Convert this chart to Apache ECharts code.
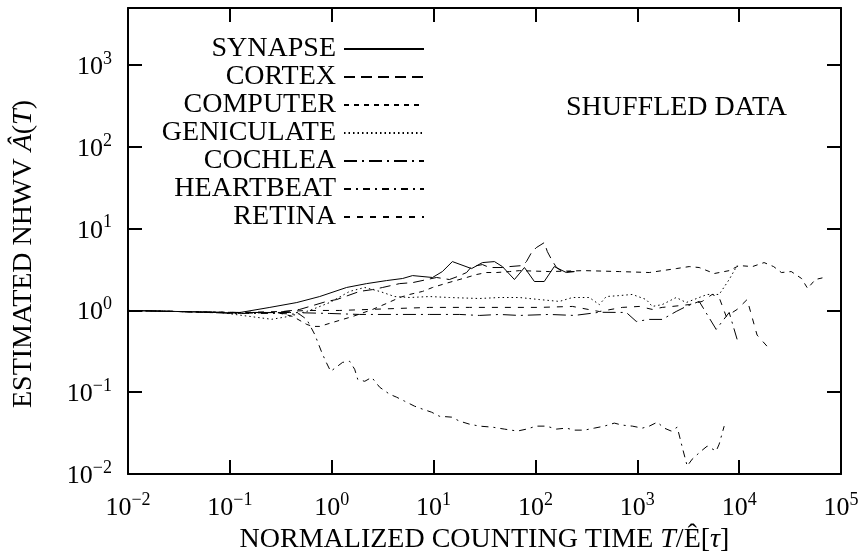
<!DOCTYPE html>
<html>
<head>
<meta charset="utf-8">
<script src="https://cdn.jsdelivr.net/npm/echarts@6/dist/echarts.min.js"></script>
<style>
  html, body { margin: 0; padding: 0; background: #fff; }
  #chart { width: 861px; height: 557px; }
</style>
</head>
<body>
<div id="chart"></div>
<script>
// Normalized Haar wavelet variance of shuffled point-process data sets,
// each curve given as [T / E[tau], A(T)] pairs.
const seriesNames = ['SYNAPSE', 'CORTEX', 'COMPUTER', 'GENICULATE', 'COCHLEA', 'HEARTBEAT', 'RETINA'];

const SYNAPSE = [[0.01,1.00],[0.032,0.97],[0.117,0.93],[0.247,1.09],[0.454,1.25],[0.762,1.48],[1.40,1.91],[2.20,2.13],[3.46,2.32],[4.97,2.46],[6.22,2.67],[9.77,2.53],[12.2,2.99],[15.3,3.96],[23.6,3.25],[30.2,3.85],[39.6,3.96],[47.4,3.44],[62.2,2.39],[78.0,3.35],[97.7,2.26],[122,2.26],[153,3.44],[201,2.91],[241,2.99]];

const CORTEX = [[0.01,1.00],[0.032,0.97],[0.117,0.945],[0.289,0.945],[0.486,1.03],[0.893,1.29],[1.12,1.36],[1.88,1.71],[2.52,1.80],[3.16,1.91],[4.64,2.13],[6.22,2.19],[10.7,2.53],[14.3,2.39],[17.2,2.60],[21.1,2.91],[23.6,3.44],[30.2,3.64],[35.4,3.35],[47.4,3.35],[55.6,3.44],[74.6,3.54],[81.6,3.96],[91.4,5.10],[102,5.87],[122,6.75],[131,5.24],[144,4.19],[161,3.35],[184,2.99],[241,2.99]];

const COMPUTER = [[0.01,1.00],[0.032,0.97],[0.117,0.92],[0.289,0.945],[0.415,0.845],[0.569,0.675],[0.651,0.638],[0.762,0.638],[1.02,0.714],[1.61,0.845],[2.52,1.03],[3.46,1.22],[4.64,1.44],[5.82,1.57],[7.80,1.71],[9.77,1.91],[12.2,2.08],[15.3,2.26],[21.1,2.53],[26.4,2.75],[33.1,2.91],[41.5,2.91],[55.6,2.99],[69.7,3.07],[137,2.99],[302,3.07],[667,2.99],[1312,2.91],[2411,3.25],[3236,3.44],[4055,3.35],[5700,2.83],[7982,3.07],[10000,3.54],[13500,3.44],[17580,3.85],[21800,3.44],[26000,2.91],[32500,2.99],[41000,2.46],[47000,1.86],[56000,2.39],[68100,2.53]];

const GENICULATE = [[0.01,1.00],[0.032,0.97],[0.080,0.945],[0.157,0.845],[0.258,0.78],[0.388,0.85],[0.609,1.00],[0.955,1.25],[1.50,1.71],[2.11,1.91],[2.96,1.71],[4.15,1.48],[5.82,1.44],[9.14,1.48],[14.3,1.44],[28.2,1.40],[44.4,1.44],[69.7,1.44],[109,1.36],[172,1.29],[231,1.44],[338,1.44],[424,1.18],[496,1.48],[667,1.52],[894,1.57],[1225,1.36],[1403,1.12],[1757,1.18],[2411,1.44],[3022,1.25],[4055,1.44],[4854,1.57],[6367,1.57],[7982,2.39],[9555,3.54]];

const COCHLEA = [[0.01,1.00],[0.032,0.97],[0.117,0.945],[0.388,0.945],[0.955,0.919],[1.88,0.894],[4.64,0.894],[9.14,0.894],[18.0,0.894],[28.2,0.869],[44.4,0.894],[69.7,0.869],[137,0.894],[241,0.869],[424,0.95],[780,0.945],[978,0.734],[1312,0.777],[1757,0.777],[2411,0.972],[3022,1.12],[4055,1.29],[5951,0.587],[7982,0.945],[9555,0.443]];

const HEARTBEAT = [[0.01,1.00],[0.032,0.97],[0.117,0.92],[0.309,0.92],[0.486,0.894],[0.569,0.777],[0.681,0.51],[0.798,0.308],[0.873,0.239],[0.977,0.180],[1.07,0.196],[1.28,0.232],[1.50,0.239],[1.68,0.191],[1.80,0.144],[2.11,0.136],[2.47,0.152],[2.96,0.115],[3.70,0.0946],[4.34,0.0869],[5.20,0.0777],[6.51,0.0675],[7.80,0.0621],[9.56,0.057],[11.4,0.0509],[15.0,0.0496],[18.0,0.0443],[22.5,0.0407],[28.2,0.0385],[37.9,0.0374],[49.6,0.0354],[66.6,0.0335],[81.6,0.0354],[102,0.0385],[128,0.0385],[161,0.0354],[201,0.0364],[241,0.0344],[302,0.0344],[379,0.0364],[474,0.0385],[595,0.0419],[713,0.0396],[894,0.0385],[1120,0.0364],[1312,0.0385],[1570,0.043],[1840,0.0364],[2155,0.0335],[2467,0.0374],[2762,0.0213],[3091,0.0125],[3461,0.0152],[4240,0.0191],[4854,0.0219],[5951,0.0191],[6367,0.0232],[7128,0.0385]];

const RETINA = [[0.01,1.00],[0.032,0.97],[0.117,0.945],[0.309,0.97],[0.609,1.00],[1.20,1.00],[2.36,1.03],[4.64,1.06],[9.14,1.09],[22.5,1.09],[44.4,1.09],[109,1.09],[231,1.12],[424,0.97],[713,1.09],[1047,1.12],[1403,1.03],[1757,1.09],[2203,1.12],[3236,1.18],[4338,1.29],[5433,1.57],[6367,1.44],[7464,0.845],[9555,1.03],[11980,1.36],[15000,0.50],[18830,0.364]];

const seriesData = [SYNAPSE, CORTEX, COMPUTER, GENICULATE, COCHLEA, HEARTBEAT, RETINA];

// Dash patterns, one per curve (solid, dashes, dots, dash-dots).
const dashPatterns = ['solid', [11, 6], [5, 5], [1.5, 3], [13, 5, 2, 5], [7, 5, 2, 5], [6, 7]];

const X_MIN = 0.01, X_MAX = 1e5;
const Y_MIN = 0.01, Y_MAX = 5000;

const FONT = '"Liberation Serif", "Times New Roman", serif';
const FS_TICK = 26;
const FS_TEXT = 28;

function powerLabel(v) {
  const lg = Math.log10(v);
  const e = Math.round(lg);
  if (Math.abs(lg - e) > 1e-6) return '';
  const ex = e < 0 ? '\u2212' + (-e) : String(e);
  return '{b|10}{s|' + ex + '}';
}

const labelRich = {
  b: { fontFamily: FONT, fontSize: FS_TICK, color: '#000', lineHeight: 30, verticalAlign: 'bottom' },
  s: { fontFamily: FONT, fontSize: 18, color: '#000', lineHeight: 18, verticalAlign: 'top' }
};

const nameRich = {
  n: { fontFamily: FONT, fontSize: FS_TEXT, color: '#000' },
  i: { fontFamily: FONT, fontSize: FS_TEXT, color: '#000', fontStyle: 'italic' }
};

function axis(opts) {
  return Object.assign({
    type: 'log',
    logBase: 10,
    axisLine: { show: true, onZero: false, lineStyle: { color: '#000', width: 2 } },
    axisTick: { show: true, inside: true, length: 14, lineStyle: { color: '#000', width: 2 } },
    minorTick: { show: false },
    splitLine: { show: false },
    minorSplitLine: { show: false }
  }, opts);
}

const chart = echarts.init(document.getElementById('chart'), null, { renderer: 'canvas' });

chart.setOption({
  animation: false,
  backgroundColor: '#fff',
  grid: { left: 128, right: 20, top: 8, bottom: 83, containLabel: false, outerBoundsMode: 'none' },
  title: {
    text: 'SHUFFLED DATA',
    left: 566, top: 94, padding: 0,
    textStyle: { fontFamily: FONT, fontSize: FS_TEXT, fontWeight: 'normal', color: '#000' }
  },
  legend: {
    orient: 'vertical',
    right: 436, top: 35,
    align: 'right',
    padding: 0,
    itemWidth: 80, itemHeight: 2, itemGap: 0,
    selectedMode: false,
    itemStyle: { color: 'rgba(0,0,0,0)', borderWidth: 0, opacity: 0 },
    textStyle: { fontFamily: FONT, fontSize: FS_TEXT, color: '#000', lineHeight: 27.5, padding: [0, 3, 0, 0] },
    data: seriesNames
  },
  xAxis: [
    axis({
      position: 'bottom', min: X_MIN, max: X_MAX,
      axisLabel: { margin: 17, formatter: powerLabel, rich: labelRich },
      name: '{n|NORMALIZED COUNTING TIME }{i|T}{n|/Ê[}{i|\u03c4}{n|]}',
      nameLocation: 'middle', nameGap: 51,
      nameTextStyle: { rich: nameRich }
    }),
    axis({ position: 'top', min: X_MIN, max: X_MAX, axisLabel: { show: false } })
  ],
  yAxis: [
    axis({
      position: 'left', min: Y_MIN, max: Y_MAX,
      axisLabel: { margin: 16, formatter: powerLabel, rich: labelRich },
      name: '{n|ESTIMATED NHWV }{i|Â}{n|(}{i|T}{n|)}',
      nameLocation: 'middle', nameGap: 90, nameRotate: 90,
      nameTextStyle: { rich: nameRich, padding: [0, 26, 0, 0] }
    }),
    axis({ position: 'right', min: Y_MIN, max: Y_MAX, axisLabel: { show: false } })
  ],
  series: seriesNames.map((name, k) => ({
    name: name,
    type: 'line',
    xAxisIndex: 0,
    yAxisIndex: 0,
    data: seriesData[k],
    symbol: 'none',
    showSymbol: false,
    silent: true,
    clip: true,
    itemStyle: { color: '#000' },
    lineStyle: { color: '#000', width: 1, type: dashPatterns[k] }
  }))
});
</script>
</body>
</html>
